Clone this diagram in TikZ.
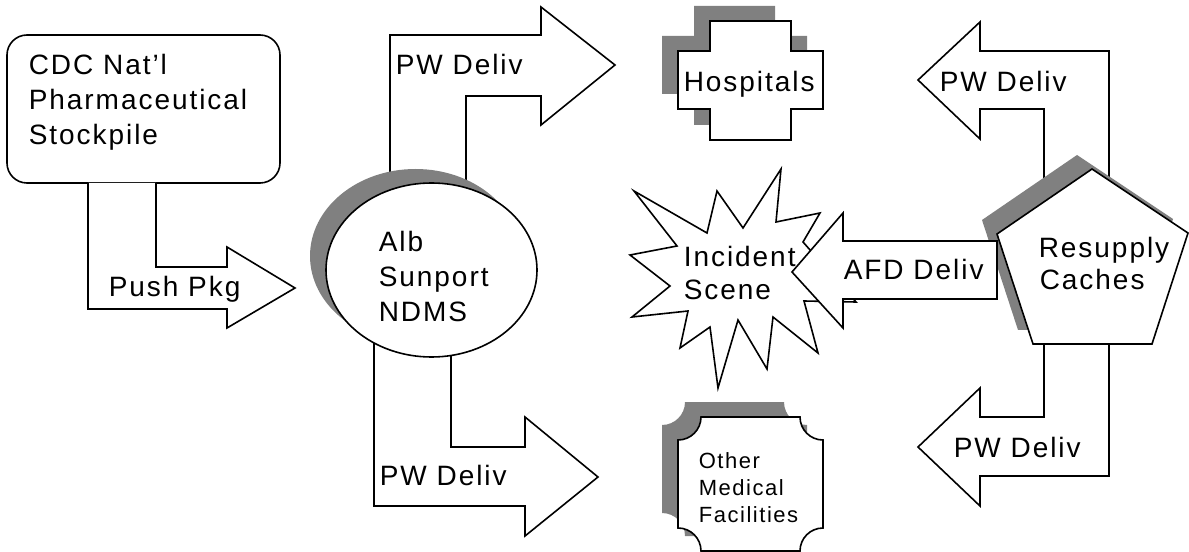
\documentclass[tikz,border=0pt]{standalone}
\usepackage{fontspec}
\setmainfont{Liberation Sans}
\newfontfamily\lblfont{Liberation Sans}[LetterSpace=7]
\definecolor{shadowgray}{RGB}{128,128,128}
\begin{document}
\begin{tikzpicture}[x=0.75pt,y=-0.75pt,line width=1.2pt,line join=miter,
  blk/.style={draw=black,fill=white},
  shd/.style={fill=shadowgray,draw=none},
  lbl/.style={anchor=base west,inner sep=0pt,font=\lblfont\fontsize{21}{25}\selectfont},
  slbl/.style={anchor=base west,inner sep=0pt,font=\lblfont\fontsize{16.5}{20}\selectfont}]
\useasboundingbox[fill=white] (0,0) rectangle (1189,552);

% ---------- CDC box and Push Pkg arrow ----------
\draw[blk,rounded corners=15pt] (7,35) rectangle (280,183);
\draw[blk] (88,183) -- (88,309) -- (227,309) -- (227,328) -- (295,288) -- (227,247) -- (227,267) -- (156,267) -- (156,183);
\node[lbl] (cdc1) at (28,75) {CDC Nat’l};
\node[lbl] (cdc2) at (28,110) {Pharmaceutical};
\node[lbl] (cdc3) at (28,145) {Stockpile};
\node[lbl] (push) at (108,297) {Push Pkg};

% ---------- arrows leaving the Alb ellipse ----------
\draw[blk] (390,200) -- (390,35) -- (541,35) -- (541,7) -- (615,65) -- (541,125) -- (541,96) -- (466,96) -- (466,200);
\draw[blk] (374,320) -- (374,506) -- (525,506) -- (525,536) -- (598,477) -- (525,417) -- (525,447) -- (451,447) -- (451,320);
\node[lbl] (pw1) at (395,75) {PW Deliv};
\node[lbl] (pw2) at (379,485) {PW Deliv};

% ---------- Alb ellipse ----------
\fill[shd] (415.5,256) ellipse [x radius=105.5,y radius=87];
\draw[blk] (431.5,270) ellipse [x radius=105.5,y radius=87];
\node[lbl] (alb1) at (378,252) {Alb};
\node[lbl] (alb2) at (378,287) {Sunport};
\node[lbl] (alb3) at (378,322) {NDMS};

% ---------- Hospitals cross ----------
\newcommand\crosspath{(710,21) -- (791,21) -- (791,51) -- (823,51) -- (823,109) -- (791,109) -- (791,140) -- (710,140) -- (710,109) -- (678,109) -- (678,51) -- (710,51) -- cycle}
\fill[shd,shift={(-16,-15)}] \crosspath;
\draw[blk] \crosspath;
\node[lbl] (hosp) at (683,92) {Hospitals};

% ---------- Incident scene star ----------
\draw[blk] (634,191) -- (707,233) -- (717,191) -- (743,228) -- (781,169) -- (776,222) -- (820,213) -- (803,242) -- (856,302) -- (804,301) -- (818,353) -- (773,317) -- (767,369) -- (738,320) -- (718,388) -- (710,327) -- (680,348) -- (688,311) -- (632,317) -- (670,286) -- (630,255) -- (677,246) -- cycle;
\node[lbl] (inc1) at (683,267) {Incident};
\node[lbl] (inc2) at (683,300) {Scene};

% ---------- Other medical facilities ----------
\newcommand\omfpath{(701,417) -- (800,417) arc[start angle=180,end angle=90,radius=23] -- (823,528) arc[start angle=270,end angle=180,radius=23] -- (701,551) arc[start angle=0,end angle=-90,radius=23] -- (678,440) arc[start angle=90,end angle=0,radius=23] -- cycle}
\fill[shd,shift={(-16,-15)}] \omfpath;
\draw[blk] \omfpath;
\node[slbl] (omf1) at (698,468) {Other};
\node[slbl] (omf2) at (698,495) {Medical};
\node[slbl] (omf3) at (698,522) {Facilities};

% ---------- arrows leaving the Resupply pentagon ----------
\draw[blk] (1044,210) -- (1044,109) -- (980,109) -- (980,139) -- (918,80) -- (980,22) -- (980,51) -- (1109,51) -- (1109,210);
\draw[blk] (1044,320) -- (1044,417) -- (980,417) -- (980,388) -- (918,447) -- (980,506) -- (980,476) -- (1109,476) -- (1109,320);
\node[lbl] (pw3) at (939,92) {PW Deliv};
\node[lbl] (pw4) at (953,457) {PW Deliv};

% ---------- Resupply pentagon ----------
\newcommand\pentpath{(1092,169) -- (1188,233) -- (1152,344) -- (1033,344) -- (997,234) -- cycle}
\fill[shd,shift={(-15,-14)}] \pentpath;
\draw[blk] \pentpath;
\node[lbl] (res1) at (1038,258) {Resupply};
\node[lbl] (res2) at (1039,290) {Caches};

% ---------- AFD arrow ----------
\draw[blk] (997,241) -- (843,241) -- (843,213) -- (792,272) -- (843,328) -- (843,299) -- (997,299) -- cycle;
\node[lbl] (afd) at (843,280) {AFD Deliv};
\end{tikzpicture}
\end{document}
